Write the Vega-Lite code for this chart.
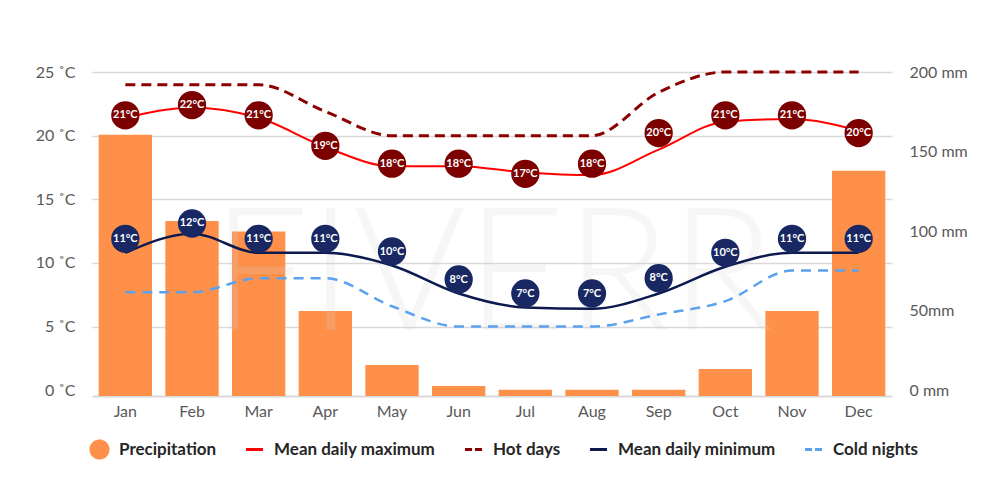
{
  "$schema": "https://vega.github.io/schema/vega-lite/v6.json",
  "width": 800,
  "height": 324,
  "autosize": {"type": "none"},
  "padding": {"left": 92, "top": 72, "right": 108, "bottom": 108},
  "background": "white",
  "config": {
    "view": {"stroke": null},
    "font": "Lato",
    "axis": {"labelFont": "Lato", "labelFontSize": 16, "labelColor": "#595959", "ticks": false}
  },
  "data": {
    "values": [
      {"month": "Jan", "precip": 160.5, "max": 21.4, "maxMark": 21.6, "maxLbl": "21°C", "hot": 24, "min": 10.8, "minMark": 11.9, "minLbl": "11°C", "cold": 7.7},
      {"month": "Feb", "precip": 106.4, "max": 22.2, "maxMark": 22.4, "maxLbl": "22°C", "hot": 24, "min": 12.3, "minMark": 13.1, "minLbl": "12°C", "cold": 7.7},
      {"month": "Mar", "precip": 99.7, "max": 21.4, "maxMark": 21.6, "maxLbl": "21°C", "hot": 24, "min": 10.8, "minMark": 11.9, "minLbl": "11°C", "cold": 8.8},
      {"month": "Apr", "precip": 49.8, "max": 19.1, "maxMark": 19.2, "maxLbl": "19°C", "hot": 21.9, "min": 10.8, "minMark": 11.9, "minLbl": "11°C", "cold": 8.8},
      {"month": "May", "precip": 15.9, "max": 17.6, "maxMark": 17.8, "maxLbl": "18°C", "hot": 20, "min": 9.8, "minMark": 10.9, "minLbl": "10°C", "cold": 6.6},
      {"month": "Jun", "precip": 2.7, "max": 17.6, "maxMark": 17.8, "maxLbl": "18°C", "hot": 20, "min": 7.6, "minMark": 8.7, "minLbl": "8°C", "cold": 5.0},
      {"month": "Jul", "precip": 0.3, "max": 17.1, "maxMark": 17.0, "maxLbl": "17°C", "hot": 20, "min": 6.5, "minMark": 7.6, "minLbl": "7°C", "cold": 5.0},
      {"month": "Aug", "precip": 0.3, "max": 16.9, "maxMark": 17.8, "maxLbl": "18°C", "hot": 20, "min": 6.4, "minMark": 7.6, "minLbl": "7°C", "cold": 5.0},
      {"month": "Sep", "precip": 0.3, "max": 18.9, "maxMark": 20.2, "maxLbl": "20°C", "hot": 23.4, "min": 7.6, "minMark": 8.8, "minLbl": "8°C", "cold": 5.95},
      {"month": "Oct", "precip": 13.4, "max": 21.1, "maxMark": 21.6, "maxLbl": "21°C", "hot": 25, "min": 9.7, "minMark": 10.8, "minLbl": "10°C", "cold": 7.0},
      {"month": "Nov", "precip": 49.8, "max": 21.3, "maxMark": 21.6, "maxLbl": "21°C", "hot": 25, "min": 10.8, "minMark": 11.9, "minLbl": "11°C", "cold": 9.4},
      {"month": "Dec", "precip": 138, "max": 20.4, "maxMark": 20.2, "maxLbl": "20°C", "hot": 25, "min": 10.8, "minMark": 11.9, "minLbl": "11°C", "cold": 9.4}
    ]
  },
  "encoding": {
    "x": {
      "field": "month",
      "type": "ordinal",
      "sort": null,
      "title": null,
      "scale": {"paddingInner": 0.2, "paddingOuter": 0.1},
      "axis": {"labelAngle": 0, "labelPadding": 7, "domain": true, "domainColor": "#d9d9d9", "domainWidth": 2, "grid": false}
    }
  },
  "layer": [
    {
      "mark": {"type": "bar"},
      "encoding": {
        "y": {
          "field": "precip",
          "type": "quantitative",
          "title": null,
          "scale": {"domain": [-3.6, 200]},
          "axis": {
            "orient": "right",
            "values": [0, 50, 100, 150, 200],
            "labelExpr": "datum.value === 50 ? '50mm' : datum.value + ' mm'",
            "labelPadding": 17,
            "grid": false,
            "domain": false
          }
        },
        "y2": {"datum": -3.6},
        "color": {
          "datum": "Precipitation",
          "scale": {
            "domain": ["Precipitation", "Mean daily maximum", "Hot days", "Mean daily minimum", "Cold nights"],
            "range": ["#fe9049", "#ff0000", "#8b0000", "#0d1a4f", "#5aa2ee"]
          },
          "legend": {
            "title": null,
            "orient": "none",
            "legendX": -3,
            "legendY": 367,
            "direction": "horizontal",
            "columns": 5,
            "gridAlign": "none",
            "padding": 0,
            "labelFont": "Lato",
            "labelFontSize": 17,
            "labelFontWeight": "bold",
            "labelColor": "#262626",
            "labelLimit": 400,
            "labelOffset": 9,
            "columnPadding": 22,
            "symbolSize": 290,
            "symbolStrokeWidth": 3,
            "encode": {
              "symbols": {
                "update": {
                  "shape": {"signal": "datum.value === 'Precipitation' ? 'circle' : 'stroke'"},
                  "fill": {"signal": "datum.value === 'Precipitation' ? '#fe9049' : 'transparent'"},
                  "stroke": {"signal": "datum.value === 'Precipitation' ? 'transparent' : datum.value === 'Mean daily maximum' ? '#ff0000' : datum.value === 'Hot days' ? '#8b0000' : datum.value === 'Mean daily minimum' ? '#0d1a4f' : '#5aa2ee'"},
                  "strokeDash": {"signal": "datum.value === 'Hot days' || datum.value === 'Cold nights' ? [7, 3] : [1, 0]"},
                  "strokeWidth": {"value": 3},
                  "opacity": {"value": 1}
                }
              }
            }
          }
        }
      }
    },
    {
      "layer": [
        {
          "data": {"values": [{"mark": "FIVERR"}]},
          "mark": {"type": "text", "font": "Lato", "fontWeight": 300, "fontSize": 172, "fill": "#d0d0d0", "fillOpacity": 0.2, "baseline": "alphabetic", "align": "center", "dx": 34},
          "encoding": {
            "x": {"datum": "Jun"},
            "y": {"datum": 4.7, "type": "quantitative", "title": null, "scale": {"domain": [-0.45, 25]}},
            "text": {"field": "mark"}
          }
        },
        {
          "mark": {"type": "line", "interpolate": "monotone", "strokeWidth": 3, "strokeDash": [10, 6]},
          "encoding": {
            "y": {
              "field": "hot",
              "type": "quantitative",
              "title": null,
              "scale": {"domain": [-0.45, 25]},
              "axis": {
                "orient": "left",
                "values": [0, 5, 10, 15, 20, 25],
                "labelExpr": "datum.value + ' ˚C'",
                "labelPadding": 17,
                "domain": false,
                "grid": true,
                "gridColor": "#d9d9d9",
                "gridWidth": 1.5,
                "gridOpacity": {"condition": {"test": "datum.value === 0", "value": 0}, "value": 1}
              }
            },
            "color": {"datum": "Hot days"}
          }
        },
        {
          "mark": {"type": "line", "interpolate": "monotone", "strokeWidth": 2},
          "encoding": {
            "y": {"field": "max", "type": "quantitative", "title": null, "scale": {"domain": [-0.45, 25]}},
            "color": {"datum": "Mean daily maximum"}
          }
        },
        {
          "mark": {"type": "line", "interpolate": "monotone", "strokeWidth": 2.5, "strokeDash": [10, 7]},
          "encoding": {
            "y": {"field": "cold", "type": "quantitative", "title": null, "scale": {"domain": [-0.45, 25]}},
            "color": {"datum": "Cold nights"}
          }
        },
        {
          "mark": {"type": "line", "interpolate": "monotone", "strokeWidth": 2.5},
          "encoding": {
            "y": {"field": "min", "type": "quantitative", "title": null, "scale": {"domain": [-0.45, 25]}},
            "color": {"datum": "Mean daily minimum"}
          }
        },
        {
          "mark": {"type": "circle", "size": 800, "opacity": 1, "color": "#7d0000"},
          "encoding": {
            "y": {"field": "maxMark", "type": "quantitative", "title": null, "scale": {"domain": [-0.45, 25]}}
          }
        },
        {
          "mark": {"type": "text", "color": "white", "font": "Lato", "fontWeight": "bold", "fontSize": 11, "baseline": "middle", "align": "center"},
          "encoding": {
            "y": {"field": "maxMark", "type": "quantitative", "title": null, "scale": {"domain": [-0.45, 25]}},
            "text": {"field": "maxLbl"}
          }
        },
        {
          "mark": {"type": "circle", "size": 800, "opacity": 1, "color": "#192862"},
          "encoding": {
            "y": {"field": "minMark", "type": "quantitative", "title": null, "scale": {"domain": [-0.45, 25]}}
          }
        },
        {
          "mark": {"type": "text", "color": "white", "font": "Lato", "fontWeight": "bold", "fontSize": 11, "baseline": "middle", "align": "center"},
          "encoding": {
            "y": {"field": "minMark", "type": "quantitative", "title": null, "scale": {"domain": [-0.45, 25]}},
            "text": {"field": "minLbl"}
          }
        }
      ]
    }
  ],
  "resolve": {"scale": {"y": "independent"}}
}
